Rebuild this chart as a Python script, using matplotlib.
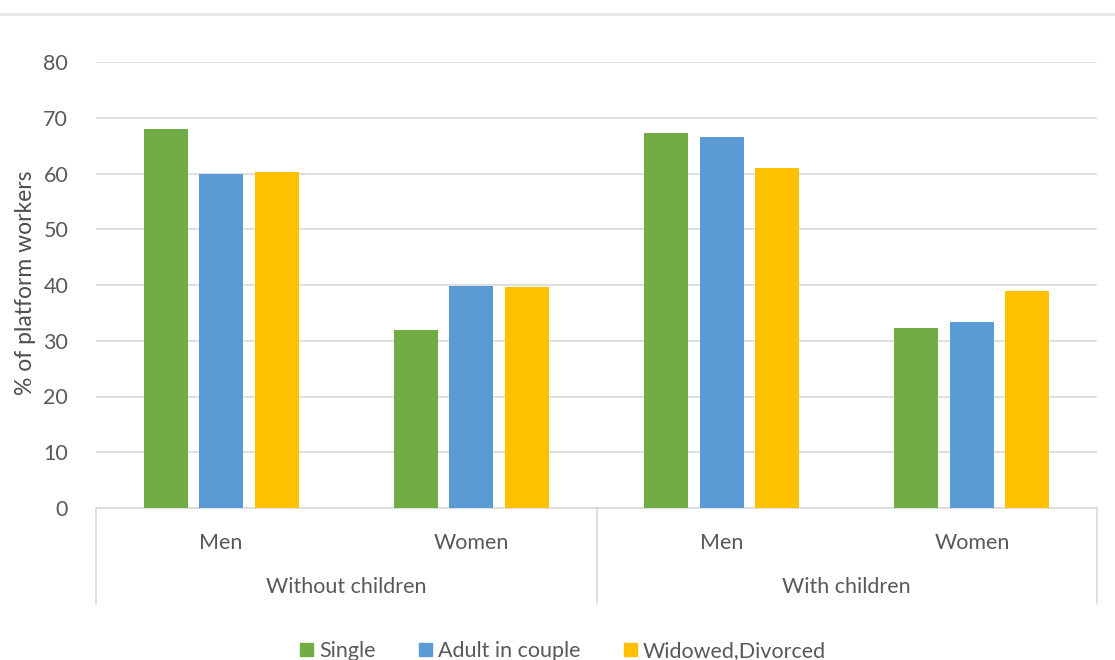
import numpy as np
import matplotlib.pyplot as plt
from matplotlib.patches import Patch
from matplotlib.lines import Line2D

plt.rcParams['font.family'] = ['Lato', 'DejaVu Sans']

# data
sub_labels = ['Men', 'Women', 'Men', 'Women']
group_labels = ['Without children', 'With children']
series = ['Single', 'Adult in couple', 'Widowed,Divorced']
single = [68.0, 31.9, 67.2, 32.3]
couple = [60.0, 39.9, 66.5, 33.3]
widowed = [60.2, 39.6, 60.9, 38.9]
colors = ['#70AD47', '#5B9BD5', '#FFC000']
yticks = [0, 10, 20, 30, 40, 50, 60, 70, 80]

txt = '#595959'
fs = 15.5
fig = plt.figure(figsize=(11.15, 6.6), dpi=100)
ax = fig.add_axes([96/1115, 152/660, 1001/1115, 446/660])

x = np.arange(len(sub_labels))
w = 0.176
step = 0.222
for i, (vals, c) in enumerate(zip([single, couple, widowed], colors)):
    ax.bar(x + (i - 1) * step, vals, w, color=c, zorder=3)

ax.set_xlim(-0.5, 3.5)
ax.set_ylim(0, 80)
ax.set_yticks(yticks)
ax.grid(axis='y', color='#d9d9d9', lw=1.2, zorder=0)
for s in ['top', 'right', 'left']:
    ax.spines[s].set_visible(False)
ax.spines['bottom'].set_color('#d9d9d9')
ax.spines['bottom'].set_linewidth(1.2)
ax.tick_params(axis='y', length=0, pad=20, labelsize=fs, labelcolor=txt)
ax.set_xticks(x)
ax.set_xticklabels(sub_labels)
ax.tick_params(axis='x', length=0, pad=18, labelsize=fs, labelcolor=txt)
ax.set_ylabel('% of platform workers', fontsize=16.5, color='#4d4d4d')
ax.yaxis.set_label_coords(-0.06, 0.505)

# two-level category axis
trans = ax.get_xaxis_transform()
for xb in [-0.5, 1.5, 3.5]:
    ax.add_line(Line2D([xb, xb], [0, -0.213], transform=trans, color='#d9d9d9',
                       lw=1.2, clip_on=False))
for j, g in enumerate(group_labels):
    ax.text(2 * j + 0.5, -0.178, g, transform=trans, ha='center', va='center',
            fontsize=fs, color=txt)

# top border
fig.add_artist(Line2D([0, 1], [1 - 14/660, 1 - 14/660], color='#e6e6e6', lw=2))

handles = [Patch(color=c, label=s) for s, c in zip(series, colors)]
fig.legend(handles=handles, loc='lower center', bbox_to_anchor=(0.505, -0.031), ncol=3,
           frameon=False, fontsize=fs, labelcolor=txt, handlelength=0.6,
           handleheight=0.6, handletextpad=0.3, columnspacing=2.0)

fig.savefig('out.png', dpi=100)
